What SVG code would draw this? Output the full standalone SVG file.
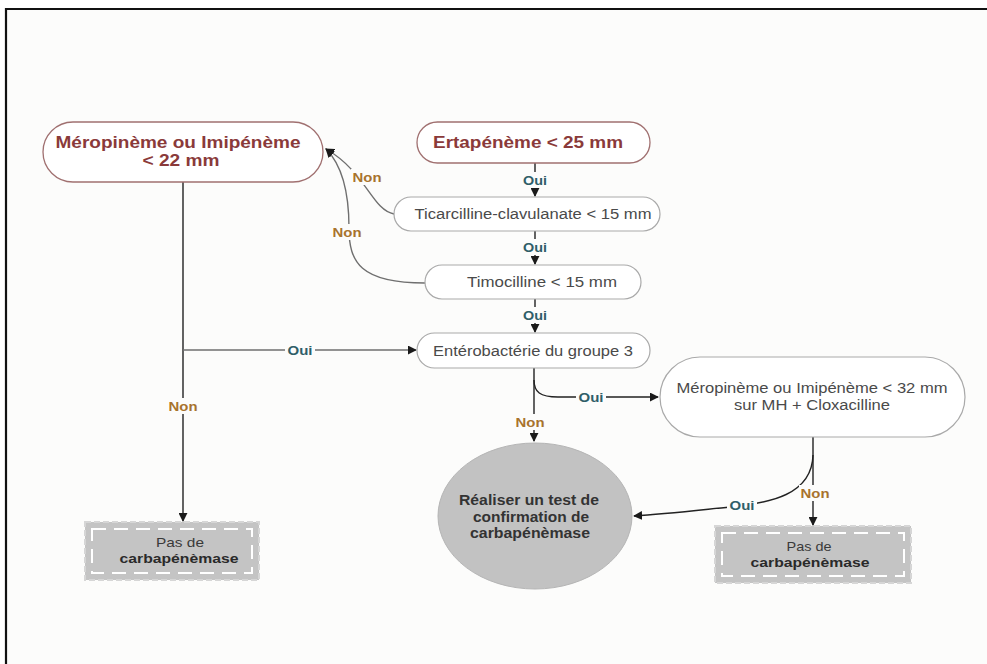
<svg xmlns="http://www.w3.org/2000/svg" width="987" height="664" viewBox="0 0 987 664">
  <defs>
    <marker id="arrow" viewBox="0 0 10 10" refX="9" refY="5" markerWidth="9" markerHeight="9" markerUnits="userSpaceOnUse" orient="auto">
      <path d="M0,0 L10,5 L0,10 z" fill="#1a1a1a"/>
    </marker>
    <style>
      text { font-family: "Liberation Sans", Arial, sans-serif; text-anchor: middle; }
      .pill { fill: #ffffff; stroke: #a9a9a9; stroke-width: 1.2; }
      .pill-key { fill: #ffffff; stroke: #a07070; stroke-width: 1.3; }
      .t-key { font-weight: bold; font-size: 16px; fill: #8a3a3a; }
      .t { font-size: 14px; fill: #4a4a4a; }
      .t-end { font-size: 13.5px; fill: #3a3a3a; }
      .t-end-b { font-weight: bold; fill: #2a2a2a; }
      .t-circle { font-weight: bold; font-size: 14px; fill: #333333; }
      .line { fill: none; stroke: #222222; stroke-width: 1.4; }
      .line-soft { fill: none; stroke: #6f6f6f; stroke-width: 1.4; }
      .oui { font-weight: bold; font-size: 13.5px; fill: #2f5e69; }
      .non { font-weight: bold; font-size: 13.5px; fill: #a8732d; }
      .lbl-bg { fill: #fcfcfb; }
      .endbox { fill: #c4c4c4; stroke: #d6d6d6; stroke-width: 2; stroke-dasharray: 6 3; }
      .endbox-in { fill: none; stroke: #ffffff; stroke-width: 2; stroke-dasharray: 14 8; }
    </style>
  </defs>

  <!-- page -->
  <rect x="0" y="0" width="987" height="664" fill="#ffffff"/>
  <rect x="6" y="9" width="981" height="655" fill="#fcfcfb"/>
  <path d="M6,664 L6,9 L987,9" fill="none" stroke="#111111" stroke-width="2.2"/>

  <!-- connectors -->
  <g id="connectors">
    <!-- main chain -->
    <path class="line" d="M535,163 L535,196" marker-end="url(#arrow)"/>
    <path class="line" d="M535,231 L535,264" marker-end="url(#arrow)"/>
    <path class="line" d="M535,299 L535,332" marker-end="url(#arrow)"/>
    <!-- "Non" returns to first carbapenem test -->
    <path class="line-soft" d="M394,214 C372,210 366,172 326,149" marker-end="url(#arrow)"/>
    <path class="line-soft" d="M425,283 C360,283 349,262 349,228 C349,190 342,165 326,149" marker-end="url(#arrow)"/>
    <!-- left column -->
    <path class="line" d="M183,182 L183,521" marker-end="url(#arrow)"/>
    <path class="line-soft" d="M183,350 L416,350" marker-end="url(#arrow)"/>
    <!-- from group 3 -->
    <path class="line" d="M534,368 L534,441" marker-end="url(#arrow)"/>
    <path class="line" d="M534,380 C534,392 540,397 558,397 L658,397" marker-end="url(#arrow)"/>
    <!-- from MH + cloxacilline -->
    <path class="line" d="M813,437 L813,525" marker-end="url(#arrow)"/>
    <path class="line" d="M813,455 C812,495 770,503 730,507 C700,510 665,514 634,516" marker-end="url(#arrow)"/>

    <!-- labels -->
    <rect class="lbl-bg" x="520" y="172" width="30" height="16"/>
    <text class="oui" x="535" y="185" textLength="24" lengthAdjust="spacingAndGlyphs">Oui</text>
    <rect class="lbl-bg" x="520" y="239" width="30" height="16"/>
    <text class="oui" x="535" y="252" textLength="24" lengthAdjust="spacingAndGlyphs">Oui</text>
    <rect class="lbl-bg" x="520" y="307" width="30" height="16"/>
    <text class="oui" x="535" y="320" textLength="24" lengthAdjust="spacingAndGlyphs">Oui</text>
    <rect class="lbl-bg" x="285" y="342" width="30" height="16"/>
    <text class="oui" x="300" y="355" textLength="25" lengthAdjust="spacingAndGlyphs">Oui</text>
    <rect class="lbl-bg" x="576" y="389" width="30" height="16"/>
    <text class="oui" x="591" y="402" textLength="25" lengthAdjust="spacingAndGlyphs">Oui</text>
    <rect class="lbl-bg" x="727" y="497" width="30" height="16"/>
    <text class="oui" x="742" y="510" textLength="25" lengthAdjust="spacingAndGlyphs">Oui</text>

    <rect class="lbl-bg" x="351" y="169" width="32" height="16"/>
    <text class="non" x="367" y="182" textLength="29" lengthAdjust="spacingAndGlyphs">Non</text>
    <rect class="lbl-bg" x="331" y="224" width="32" height="16"/>
    <text class="non" x="347" y="237" textLength="29" lengthAdjust="spacingAndGlyphs">Non</text>
    <rect class="lbl-bg" x="167" y="398" width="32" height="16"/>
    <text class="non" x="183" y="411" textLength="29" lengthAdjust="spacingAndGlyphs">Non</text>
    <rect class="lbl-bg" x="514" y="414" width="32" height="16"/>
    <text class="non" x="530" y="427" textLength="29" lengthAdjust="spacingAndGlyphs">Non</text>
    <rect class="lbl-bg" x="799" y="485" width="32" height="16"/>
    <text class="non" x="815" y="498" textLength="29" lengthAdjust="spacingAndGlyphs">Non</text>
  </g>

  <!-- nodes -->
  <g id="node-mero22">
    <rect class="pill-key" x="43" y="122" width="280" height="60" rx="30" ry="30"/>
    <text class="t-key" x="178" y="148" textLength="245" lengthAdjust="spacingAndGlyphs">Méropinème ou Imipénème</text>
    <text class="t-key" x="181" y="166" textLength="77" lengthAdjust="spacingAndGlyphs">&lt; 22 mm</text>
  </g>

  <g id="node-erta">
    <rect class="pill-key" x="417" y="122" width="233" height="41" rx="20.5" ry="20.5"/>
    <text class="t-key" x="528" y="148" textLength="190" lengthAdjust="spacingAndGlyphs">Ertapénème &lt; 25 mm</text>
  </g>

  <g id="node-ticar">
    <rect class="pill" x="394" y="197" width="266" height="34" rx="17" ry="17"/>
    <text class="t" x="533" y="219" textLength="237" lengthAdjust="spacingAndGlyphs">Ticarcilline-clavulanate &lt; 15 mm</text>
  </g>

  <g id="node-timo">
    <rect class="pill" x="425" y="265" width="216" height="34" rx="17" ry="17"/>
    <text class="t" x="542" y="287" textLength="150" lengthAdjust="spacingAndGlyphs">Timocilline &lt; 15 mm</text>
  </g>

  <g id="node-groupe3">
    <rect class="pill" x="417" y="333" width="233" height="35" rx="17.5" ry="17.5"/>
    <text class="t" x="533" y="356" textLength="200" lengthAdjust="spacingAndGlyphs">Entérobactérie du groupe 3</text>
  </g>

  <g id="node-mero32">
    <rect class="pill" x="660" y="357" width="305" height="80" rx="40" ry="40"/>
    <text class="t" x="812" y="393" textLength="271" lengthAdjust="spacingAndGlyphs">Méropinème ou Imipénème &lt; 32 mm</text>
    <text class="t" x="812" y="410" textLength="156" lengthAdjust="spacingAndGlyphs">sur MH + Cloxacilline</text>
  </g>

  <g id="node-test">
    <ellipse cx="535" cy="516" rx="97" ry="73" fill="#c2c2c2" stroke="#b5b5b5" stroke-width="1"/>
    <text class="t-circle" x="529" y="505" textLength="140" lengthAdjust="spacingAndGlyphs">Réaliser un test de</text>
    <text class="t-circle" x="531" y="522" textLength="116" lengthAdjust="spacingAndGlyphs">confirmation de</text>
    <text class="t-circle" x="530" y="538" textLength="120" lengthAdjust="spacingAndGlyphs">carbapénèmase</text>
  </g>

  <g id="node-pas1">
    <rect class="endbox" x="85" y="522" width="174" height="58"/>
    <rect class="endbox-in" x="92" y="529" width="160" height="44"/>
    <text class="t-end" x="180" y="547" textLength="48" lengthAdjust="spacingAndGlyphs">Pas de</text>
    <text class="t-end t-end-b" x="179" y="563" textLength="119" lengthAdjust="spacingAndGlyphs">carbapénèmase</text>
  </g>

  <g id="node-pas2">
    <rect class="endbox" x="715" y="526" width="196" height="57"/>
    <rect class="endbox-in" x="722" y="533" width="182" height="43"/>
    <text class="t-end" x="809" y="551" textLength="45" lengthAdjust="spacingAndGlyphs">Pas de</text>
    <text class="t-end t-end-b" x="810" y="567" textLength="119" lengthAdjust="spacingAndGlyphs">carbapénèmase</text>
  </g>
</svg>
